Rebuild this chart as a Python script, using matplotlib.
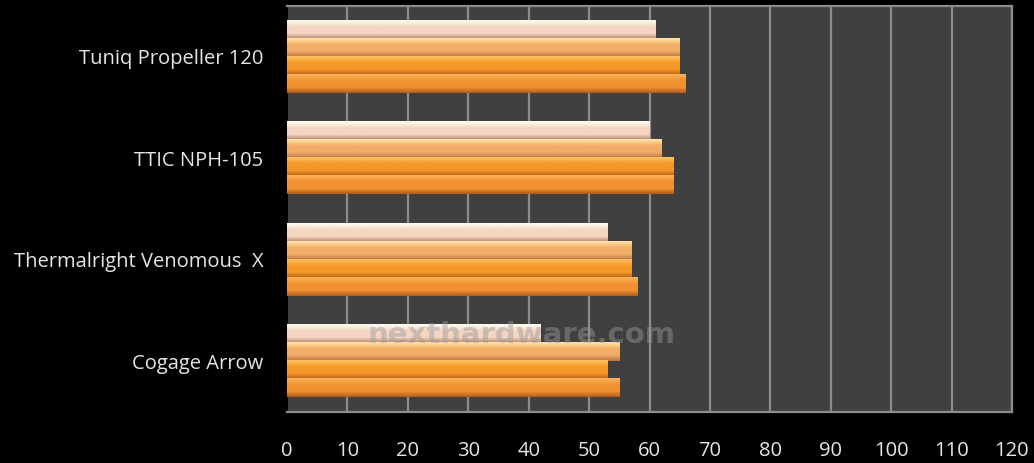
import numpy as np
import matplotlib
matplotlib.use("Agg")
import matplotlib.pyplot as plt
from matplotlib.colors import LinearSegmentedColormap

# Categories from top to bottom, and the four series (top bar first)
coolers = ["Tuniq Propeller 120", "TTIC NPH-105", "Thermalright Venomous  X", "Cogage Arrow"]
series1 = [61, 60, 53, 42]
series2 = [65, 62, 57, 55]
series3 = [65, 64, 57, 53]
series4 = [66, 64, 58, 55]
xticks = list(range(0, 121, 10))

# (top highlight, middle, bottom shade) per series
colours = [
    ("#fffdf5", "#f4d6c2", "#b78573"),
    ("#ffe6a6", "#f2ad68", "#b8754a"),
    ("#ffc463", "#f4982a", "#b7621a"),
    ("#ffb35a", "#f09232", "#b05c1c"),
]

def gradient_cmap(c):
    return LinearSegmentedColormap.from_list("g", [(0, c[0]), (0.35, c[1]), (0.7, c[1]), (1, c[2])])

fig = plt.figure(figsize=(10.34, 4.63), dpi=100, facecolor="black")
ax = fig.add_axes([0.2776, 0.110, 0.7011, 0.877])
ax.set_facecolor("#404040")

bar_h = 0.178
offsets = [-1.5 * bar_h, -0.5 * bar_h, 0.5 * bar_h, 1.5 * bar_h]
grad = np.linspace(0, 1, 64).reshape(-1, 1)

for s, vals in enumerate([series1, series2, series3, series4]):
    cmap = gradient_cmap(colours[s])
    for i, v in enumerate(vals):
        y = i + offsets[s]
        ax.barh(y, v, height=bar_h, color=colours[s][1], zorder=3)
        ax.imshow(grad, cmap=cmap, aspect="auto", zorder=3.5,
                  extent=(0, v, y + bar_h / 2, y - bar_h / 2), interpolation="bilinear")

ax.set_xlim(0, 120)
ax.set_ylim(3.5, -0.5)
ax.set_xticks(xticks)
ax.set_yticks(range(len(coolers)))
ax.set_yticklabels(coolers)
ax.grid(axis="x", color="#8c8c8c", lw=1.6, zorder=1)
ax.set_axisbelow(True)
ax.tick_params(axis="both", length=0, colors="#e6e6e6", labelsize=14.5)
ax.tick_params(axis="x", pad=21)
ax.tick_params(axis="y", pad=17)
for lab in ax.get_xticklabels() + ax.get_yticklabels():
    lab.set_family("Open Sans")
for side in ["top", "right", "bottom"]:
    ax.spines[side].set_color("#8c8c8c")
    ax.spines[side].set_linewidth(1.6)
ax.spines["left"].set_color("black")
ax.spines["left"].set_linewidth(1.6)

ax.text(0.323, 0.19, "nexthardware.com", transform=ax.transAxes, ha="center", va="center",
        fontsize=21, fontweight="bold", color="#9a9a9a", alpha=0.45, zorder=6, family="DejaVu Sans")

fig.savefig("out.png", dpi=100, facecolor="black")
